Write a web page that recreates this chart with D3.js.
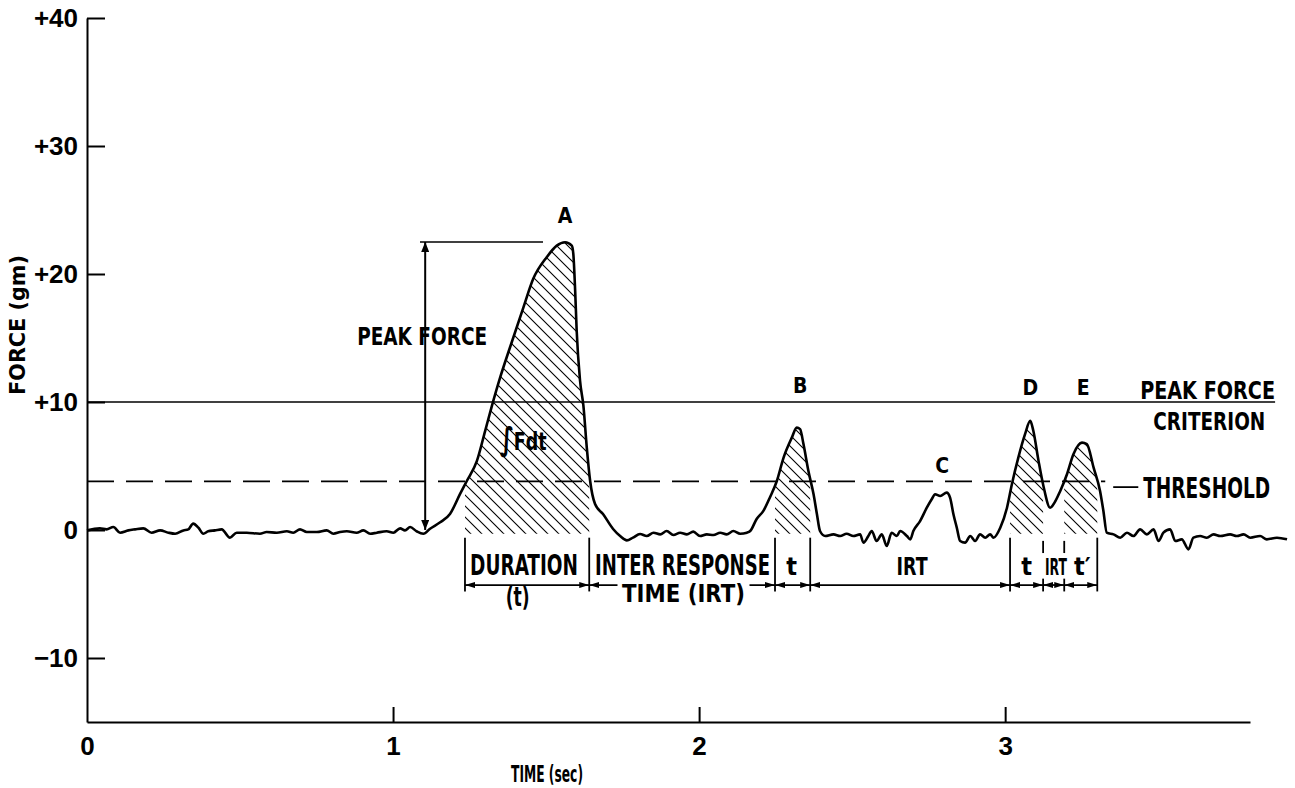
<!DOCTYPE html>
<html>
<head>
<meta charset="utf-8">
<script src="https://cdn.jsdelivr.net/npm/d3@7"></script>
<style>
  body { margin: 0; background: #fff; }
  text { fill: #000; }
  .lbl { font-family: "Liberation Sans Narrow", "DejaVu Sans Condensed", sans-serif; font-weight: bold; }
  .tick text { font-family: "Liberation Sans", Arial, sans-serif; font-size: 26px; font-weight: bold; }
</style>
</head>
<body>
<div id="chart"></div>
<script>
// force trace (sec, gm)
var time = [
  0.000, 0.042, 0.064, 0.086, 0.108, 0.135, 0.157, 0.184, 0.211, 0.239,
  0.266, 0.288, 0.315, 0.331, 0.347, 0.364, 0.380, 0.396, 0.418, 0.440,
  0.467, 0.489, 0.522, 0.565, 0.587, 0.620, 0.653, 0.674, 0.696, 0.718,
  0.751, 0.783, 0.805, 0.827, 0.849, 0.881, 0.903, 0.925, 0.947, 0.979,
  1.001, 1.023, 1.039, 1.056, 1.077, 1.099, 1.121, 1.154, 1.186, 1.219,
  1.241, 1.274, 1.301, 1.323, 1.350, 1.382, 1.426, 1.458, 1.502, 1.535,
  1.562, 1.584, 1.589, 1.595, 1.600, 1.611, 1.622, 1.633, 1.644, 1.660,
  1.686, 1.719, 1.742, 1.764, 1.784, 1.807, 1.829, 1.851, 1.873, 1.894,
  1.916, 1.938, 1.960, 1.981, 2.003, 2.025, 2.047, 2.069, 2.090, 2.112,
  2.134, 2.156, 2.167, 2.188, 2.210, 2.232, 2.254, 2.276, 2.303, 2.319,
  2.330, 2.341, 2.357, 2.374, 2.385, 2.395, 2.412, 2.439, 2.461, 2.482,
  2.504, 2.526, 2.537, 2.553, 2.564, 2.580, 2.597, 2.613, 2.629, 2.646,
  2.657, 2.679, 2.690, 2.700, 2.722, 2.744, 2.760, 2.771, 2.788, 2.809,
  2.820, 2.831, 2.842, 2.853, 2.869, 2.886, 2.902, 2.918, 2.935, 2.951,
  2.962, 2.984, 3.006, 3.022, 3.043, 3.065, 3.082, 3.092, 3.109, 3.125,
  3.147, 3.158, 3.180, 3.202, 3.223, 3.251, 3.267, 3.289, 3.310, 3.321,
  3.332, 3.354, 3.376, 3.398, 3.419, 3.441, 3.463, 3.485, 3.501, 3.517,
  3.539, 3.556, 3.577, 3.599, 3.615, 3.637, 3.659, 3.681, 3.703, 3.735,
  3.757, 3.779, 3.801, 3.833, 3.855, 3.888, 3.921
]
var force = [
  -0.03, 0.13, 0.05, 0.23, -0.21, -0.03, 0.05, 0.13, -0.21, -0.03,
  -0.21, -0.29, -0.03, 0.05, 0.50, 0.18, -0.29, -0.10, -0.03, 0.05,
  -0.60, -0.21, -0.21, -0.29, -0.16, -0.21, -0.10, -0.21, 0.05, -0.16,
  -0.16, -0.03, -0.29, -0.16, -0.10, -0.21, -0.03, -0.29, -0.21, -0.10,
  -0.21, 0.13, -0.03, 0.23, -0.10, -0.29, 0.10, 0.60, 1.25, 2.82,
  3.83, 5.40, 7.75, 9.70, 11.92, 14.26, 17.39, 19.62, 21.31, 22.22,
  22.48, 22.22, 21.57, 18.70, 15.57, 11.66, 9.70, 6.44, 3.83, 2.03,
  1.25, 0.08, -0.47, -0.81, -0.60, -0.31, -0.47, -0.21, -0.34, -0.08,
  -0.39, -0.21, -0.34, -0.13, -0.47, -0.34, -0.39, -0.21, -0.34, -0.08,
  -0.29, -0.21, -0.08, 0.86, 1.49, 2.58, 3.83, 5.66, 7.22, 8.00,
  7.88, 6.71, 4.62, 2.79, 1.23, -0.08, -0.47, -0.34, -0.47, -0.29,
  -0.47, -0.34, -0.99, -0.47, -0.08, -0.86, -0.34, -1.25, -0.21, -0.47,
  -0.08, -0.47, -0.73, -0.08, 0.70, 1.74, 2.40, 2.79, 2.66, 2.92,
  2.53, 1.23, 0.18, -0.86, -0.99, -0.47, -0.86, -0.34, -0.60, -0.34,
  -0.60, 0.18, 1.74, 3.58, 5.66, 7.49, 8.53, 7.75, 5.40, 3.44,
  1.74, 2.01, 3.05, 4.36, 5.92, 6.83, 6.71, 4.87, 3.05, 1.49,
  -0.21, -0.34, -0.60, -0.21, -0.47, 0.05, -0.34, 0.05, -0.86, -0.21,
  0.05, -0.86, -0.73, -1.51, -0.60, -0.47, -0.60, -0.34, -0.47, -0.34,
  -0.47, -0.34, -0.60, -0.47, -0.73, -0.60, -0.73
]

var yTicks = [-10, 0, 10, 20, 30, 40]
var yTickLabels = ["\u221210", "0", "+10", "+20", "+30", "+40"]
var xTicks = [0, 1, 2, 3]

var criterion = 10
var threshold = 3.8
var peakForce = 22.5

// response durations (hatched, force above threshold)
var hatchStart = [1.235, 2.248, 3.016, 3.193]
var hatchEnd   = [1.641, 2.363, 3.124, 3.301]
// bracket marks under the trace
var bounds = [1.235, 1.641, 2.248, 2.363, 3.016, 3.124, 3.193, 3.301]
var boundShort = [false, false, false, false, false, true, true, false]

var margin = {top: 18, right: 45, bottom: 66, left: 87}
var width = 1295 - margin.left - margin.right
var height = 788 - margin.top - margin.bottom

var svg = d3.select("#chart").append("svg")
    .attr("width", width + margin.left + margin.right)
    .attr("height", height + margin.top + margin.bottom)
    .style("background", "#fff")

var defs = svg.append("defs")

defs.append("pattern")
    .attr("id", "hatch")
    .attr("patternUnits", "userSpaceOnUse")
    .attr("width", 11).attr("height", 11)
  .append("path")
    .attr("d", "M-1,-1L12,12M-1,10L1,12M10,-1L12,1")
    .attr("stroke", "#000").attr("stroke-width", 1.1)

defs.append("marker")
    .attr("id", "arr").attr("viewBox", "0 0 10 6")
    .attr("refX", 10).attr("refY", 3)
    .attr("markerWidth", 10).attr("markerHeight", 6)
    .attr("markerUnits", "userSpaceOnUse")
    .attr("orient", "auto-start-reverse")
  .append("path").attr("d", "M0,0L10,3L0,6z").attr("fill", "#000")

defs.append("marker")
    .attr("id", "arrBig").attr("viewBox", "0 0 10 8")
    .attr("refX", 10).attr("refY", 4)
    .attr("markerWidth", 12).attr("markerHeight", 8)
    .attr("markerUnits", "userSpaceOnUse")
    .attr("orient", "auto-start-reverse")
  .append("path").attr("d", "M0,0L10,4L0,8z").attr("fill", "#000")

var g = svg.append("g")
    .attr("transform", "translate(" + margin.left + "," + margin.top + ")")

var x = d3.scaleLinear().domain([0, 3.8]).range([0, width])
var y = d3.scaleLinear().domain([-15, 40]).range([height, 0])

var pts = time.map(function(t, i){ return [t, force[i]] })

// squeeze a label horizontally to the lettering width of the original
function fit(sel, px, py, w, rot) {
  sel.attr("x", 0).attr("y", 0)
  var s = w ? w / sel.node().getComputedTextLength() : 1
  sel.attr("transform", "translate(" + px + "," + py + ")" +
    (rot ? " rotate(" + rot + ")" : "") + " scale(" + s + ",1)")
  return sel
}

// hatched integral areas
var clip = defs.append("clipPath").attr("id", "hatchclip")
hatchStart.forEach(function(s, i){
  clip.append("rect")
      .attr("x", x(s)).attr("y", 0)
      .attr("width", x(hatchEnd[i]) - x(s))
      .attr("height", height)
})

var area = d3.area()
    .x(function(d){ return x(d[0]) })
    .y0(y(-0.3))
    .y1(function(d){ return y(d[1]) })
    .curve(d3.curveMonotoneX)

g.append("path")
    .datum(pts)
    .attr("d", area)
    .attr("fill", "url(#hatch)")
    .attr("clip-path", "url(#hatchclip)")

// criterion and threshold lines
g.append("line")
    .attr("x1", x(0)).attr("x2", x(3.882))
    .attr("y1", y(criterion)).attr("y2", y(criterion))
    .attr("stroke", "#000").attr("stroke-width", 1.7)

g.append("line")
    .attr("x1", x(0)).attr("x2", x(3.327))
    .attr("y1", y(threshold)).attr("y2", y(threshold))
    .attr("stroke", "#000").attr("stroke-width", 1.8)
    .attr("stroke-dasharray", "27,12")

g.append("line")
    .attr("x1", x(3.353)).attr("x2", x(3.435))
    .attr("y1", y(3.35)).attr("y2", y(3.35))
    .attr("stroke", "#000").attr("stroke-width", 1.8)

// the trace
var line = d3.line()
    .x(function(d){ return x(d[0]) })
    .y(function(d){ return y(d[1]) })
    .curve(d3.curveMonotoneX)

g.append("path")
    .datum(pts)
    .attr("d", line)
    .attr("fill", "none")
    .attr("stroke", "#000")
    .attr("stroke-width", 2.6)
    .attr("stroke-linejoin", "round")

// axes
var yAxis = g.append("g")
    .call(d3.axisLeft(y).tickValues(yTicks)
      .tickFormat(function(d, i){ return yTickLabels[i] })
      .tickSize(-18).tickSizeOuter(0).tickPadding(9))
var xAxis = g.append("g")
    .attr("transform", "translate(0," + height + ")")
    .call(d3.axisBottom(x).tickValues(xTicks)
      .tickFormat(d3.format("d"))
      .tickSize(-15).tickSizeOuter(0).tickPadding(15))
xAxis.selectAll(".tick").filter(function(d){ return d === 0 }).select("line").remove()
g.selectAll(".domain, .tick line").attr("stroke", "#000").attr("stroke-width", 2)
g.selectAll(".tick text").attr("fill", "#000")

// peak force marker
g.append("line")
    .attr("x1", x(1.088)).attr("x2", x(1.49))
    .attr("y1", y(peakForce)).attr("y2", y(peakForce))
    .attr("stroke", "#000").attr("stroke-width", 1.7)
g.append("line")
    .attr("x1", x(1.105)).attr("x2", x(1.105))
    .attr("y1", y(0)).attr("y2", y(peakForce))
    .attr("stroke", "#000").attr("stroke-width", 2)
    .attr("marker-start", "url(#arrBig)")
    .attr("marker-end", "url(#arrBig)")

// duration / IRT brackets
bounds.forEach(function(b, i){
  if (boundShort[i]) {
    g.append("line").attr("x1", x(b)).attr("x2", x(b))
        .attr("y1", y(-0.85)).attr("y2", y(-1.8))
        .attr("stroke", "#000").attr("stroke-width", 1.8)
    g.append("line").attr("x1", x(b)).attr("x2", x(b))
        .attr("y1", y(-3.8)).attr("y2", y(-4.8))
        .attr("stroke", "#000").attr("stroke-width", 1.8)
  } else {
    g.append("line").attr("x1", x(b)).attr("x2", x(b))
        .attr("y1", y(-0.6)).attr("y2", y(-4.8))
        .attr("stroke", "#000").attr("stroke-width", 1.8)
  }
})
d3.pairs(bounds).forEach(function(p){
  g.append("line")
      .attr("x1", x(p[0])).attr("x2", x(p[1]))
      .attr("y1", y(-4.3)).attr("y2", y(-4.3))
      .attr("stroke", "#000").attr("stroke-width", 1.8)
      .attr("marker-start", "url(#arr)")
      .attr("marker-end", "url(#arr)")
})

// labels: [text, t, v(baseline), size, anchor, width]
var labels = [
  ["PEAK FORCE", 1.095, 14.45, 25, "middle", 130],
  ["A", 1.562, 24.0, 21, "middle", null],
  ["B", 2.330, 10.7, 21, "middle", null],
  ["C", 2.794, 4.45, 21, "middle", null],
  ["D", 3.082, 10.55, 21, "middle", null],
  ["E", 3.255, 10.55, 21, "middle", null],
  ["PEAK FORCE", 3.441, 10.25, 25, "start", 135],
  ["CRITERION", 3.484, 7.8, 25, "start", 112],
  ["THRESHOLD", 3.451, 2.5, 29, "start", 127],
  ["DURATION", 1.428, -3.5, 29, "middle", 108],
  ["(t)", 1.407, -5.9, 27, "middle", 24],
  ["INTER RESPONSE", 1.946, -3.5, 29, "middle", 175],
  ["t", 2.302, -3.5, 25, "middle", null],
  ["IRT", 2.696, -3.5, 25, "middle", 31],
  ["t", 3.070, -3.5, 25, "middle", null],
  ["IRT", 3.166, -3.5, 23, "middle", 22],
  ["t\u2032", 3.252, -3.5, 25, "middle", null]
]
labels.forEach(function(l){
  var t = g.append("text").attr("class", "lbl")
      .attr("text-anchor", l[4])
      .style("font-size", l[3] + "px")
      .text(l[0])
  fit(t, x(l[1]), y(l[2]), l[5])
})

// TIME (IRT) sits over the bracket line, which breaks for it
var irt = g.append("text").attr("class", "lbl")
    .attr("text-anchor", "middle")
    .style("font-size", "25px")
    .text("TIME (IRT)")
fit(irt, x(1.949), y(-5.6), 123)
g.insert("rect", function(){ return irt.node() })
    .attr("x", x(1.949) - 66).attr("y", y(-4.3) - 3)
    .attr("width", 132).attr("height", 6)
    .attr("fill", "#fff")

var fdt = g.append("text").attr("class", "lbl")
    .attr("text-anchor", "middle")
    .style("font-size", "24px")
fdt.append("tspan").style("font-size", "32px").text("\u222B")
fdt.append("tspan").text("Fdt")
fit(fdt, x(1.425), y(6.25), 47)

// axis titles
fit(g.append("text").attr("class", "lbl")
    .attr("text-anchor", "middle")
    .style("font-size", "21px")
    .text("FORCE (gm)"), -62, 307, 140, -90)

fit(g.append("text").attr("class", "lbl")
    .attr("text-anchor", "middle")
    .style("font-size", "23px")
    .text("TIME (sec)"), 547 - margin.left, 782 - margin.top, 72)
</script>
</body>
</html>
